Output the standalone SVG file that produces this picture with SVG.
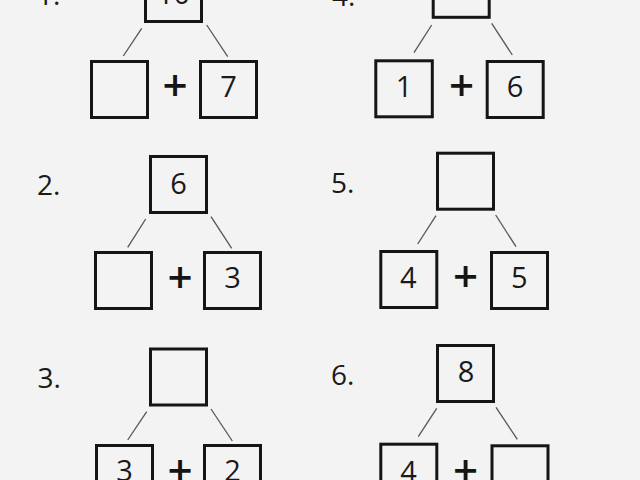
<svg xmlns="http://www.w3.org/2000/svg" width="640" height="480" viewBox="0 0 640 480">
<style>
.box{fill:none;stroke:#151515;stroke-width:3}
.ln{stroke:#555;stroke-width:1.3;fill:none}
.num{font-family:"Open Sans","Liberation Sans",sans-serif;font-size:29px;fill:#1a1a1a;text-anchor:middle}
.lbl{font-family:"Open Sans","Liberation Sans",sans-serif;font-size:28px;fill:#1a1a1a}
.plus{font-family:"Open Sans","Liberation Sans",sans-serif;font-size:44px;font-weight:600;fill:#151515;text-anchor:middle}
</style>
<rect width="640" height="480" fill="#f3f3f3"/>
<g id="connectors">
<line class="ln" x1="141.7" y1="28.3" x2="123.3" y2="56"/>
<line class="ln" x1="206.7" y1="25" x2="227.7" y2="56.7"/>
<line class="ln" x1="145.7" y1="219" x2="127.7" y2="247.3"/>
<line class="ln" x1="211" y1="216.7" x2="231.7" y2="248.3"/>
<line class="ln" x1="146.7" y1="411.7" x2="127.7" y2="440"/>
<line class="ln" x1="211" y1="409" x2="232.3" y2="441"/>
<line class="ln" x1="431.7" y1="25" x2="414" y2="52.7"/>
<line class="ln" x1="491.7" y1="23.3" x2="512.3" y2="55"/>
<line class="ln" x1="436" y1="215.7" x2="417.7" y2="244"/>
<line class="ln" x1="495.7" y1="215" x2="516" y2="246.7"/>
<line class="ln" x1="436.7" y1="408.3" x2="418.3" y2="436.7"/>
<line class="ln" x1="496" y1="407.3" x2="517.3" y2="439.3"/>
</g>
<g id="p1">
<text class="lbl" x="37" y="5">1.</text>
<g id="p1-top"><rect class="box" x="145.5" y="-34.5" width="56" height="56"/><text class="num" x="173.5" y="4">10</text></g>
<g id="p1-left"><rect class="box" x="91.5" y="61.5" width="56" height="56"/></g>
<text class="plus" x="175" y="101.4">+</text>
<g id="p1-right"><rect class="box" x="200.5" y="61.5" width="56" height="56"/><text class="num" x="228.5" y="97">7</text></g>
</g>
<g id="p2">
<text class="lbl" x="37" y="195">2.</text>
<g id="p2-top"><rect class="box" x="150.5" y="156.5" width="56" height="56"/><text class="num" x="178.5" y="194">6</text></g>
<g id="p2-left"><rect class="box" x="95.5" y="252.5" width="56" height="56"/></g>
<text class="plus" x="180" y="293">+</text>
<g id="p2-right"><rect class="box" x="204.5" y="252.5" width="56" height="56"/><text class="num" x="232.5" y="288">3</text></g>
</g>
<g id="p3">
<text class="lbl" x="37.5" y="388">3.</text>
<g id="p3-top"><rect class="box" x="150.5" y="349" width="56" height="56"/></g>
<g id="p3-left"><rect class="box" x="96.5" y="445.5" width="56" height="56"/><text class="num" x="124.5" y="481">3</text></g>
<text class="plus" x="180" y="486">+</text>
<g id="p3-right"><rect class="box" x="204.5" y="445.5" width="56" height="56"/><text class="num" x="232.5" y="481">2</text></g>
</g>
<g id="p4">
<text class="lbl" x="332" y="6">4.</text>
<g id="p4-top"><rect class="box" x="433.2" y="-38.7" width="56" height="56"/></g>
<g id="p4-left"><rect class="box" x="375.8" y="60.8" width="56.5" height="56"/><text class="num" x="404" y="97">1</text></g>
<text class="plus" x="461.7" y="101.4">+</text>
<g id="p4-right"><rect class="box" x="487.2" y="61.5" width="56" height="56"/><text class="num" x="515" y="97">6</text></g>
</g>
<g id="p5">
<text class="lbl" x="331" y="193">5.</text>
<g id="p5-top"><rect class="box" x="437.5" y="153.2" width="56" height="56"/></g>
<g id="p5-left"><rect class="box" x="380.8" y="251.5" width="56" height="56"/><text class="num" x="408.3" y="288">4</text></g>
<text class="plus" x="465.7" y="292">+</text>
<g id="p5-right"><rect class="box" x="491.5" y="252.5" width="56" height="56"/><text class="num" x="519.3" y="288">5</text></g>
</g>
<g id="p6">
<text class="lbl" x="331" y="385">6.</text>
<g id="p6-top"><rect class="box" x="437.5" y="345.5" width="56" height="56"/><text class="num" x="466" y="382">8</text></g>
<g id="p6-left"><rect class="box" x="380.8" y="444.2" width="56" height="56"/><text class="num" x="408.5" y="482">4</text></g>
<text class="plus" x="465.7" y="486">+</text>
<g id="p6-right"><rect class="box" x="492" y="445.8" width="56" height="56"/></g>
</g>
</svg>
